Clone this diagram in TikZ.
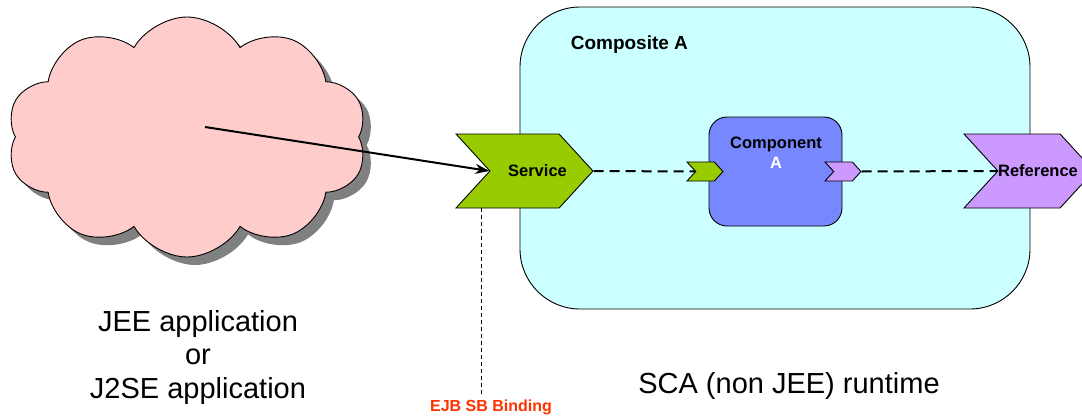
\documentclass[tikz,border=0pt]{standalone}
\usepackage{fontspec}
\setmainfont{Liberation Sans}
\usetikzlibrary{shapes.symbols,shadows,arrows.meta,calc}

\definecolor{cloudpink}{HTML}{FFCCCC}
\definecolor{compcyan}{HTML}{CCFFFF}
\definecolor{compblue}{HTML}{7788FF}
\definecolor{svcgreen}{HTML}{99CC00}
\definecolor{refpurple}{HTML}{CC99FF}
\definecolor{bindred}{HTML}{FF3300}

\begin{document}
\begin{tikzpicture}[x=1pt, y=-1pt, line width=0.9pt,
    chevron/.style={signal, signal from=west, signal to=east, draw,
        inner sep=0pt, signal pointer angle=95},
    bigtext/.style={font=\fontsize{29}{33.5}\selectfont, align=center},
    boldtext/.style={font=\fontsize{16.5}{18}\selectfont\bfseries},
    wire/.style={line width=2pt, dash pattern=on 10pt off 6pt}]
    \useasboundingbox (0,0) rectangle (1082,418);

    % client side
    \node (cloud) [cloud, cloud puffs=10, cloud puff arc=120, aspect=1.5,
        minimum width=360pt, minimum height=240pt, draw, fill=cloudpink,
        drop shadow={shadow xshift=8pt, shadow yshift=-8pt, fill=black!50, opacity=1}]
        at (187,137) {};
    \node (client) [bigtext] at (198,357) {JEE application\\or\\J2SE application};

    % composite with its component
    \node (composite) [draw, fill=compcyan, rounded corners=60pt,
        minimum width=510pt, minimum height=302pt] at (775,158) {};
    \node (comptitle) [font=\fontsize{19}{22}\selectfont\bfseries, anchor=west]
        at (567,45) {Composite A};
    \node (component) [draw, fill=compblue, rounded corners=18pt,
        minimum width=133pt, minimum height=109pt] at (775.5,171.5) {};
    \node (comptext) [font=\fontsize{16.5}{20}\selectfont\bfseries, align=center]
        at (776,153) {Component\\\textcolor{white}{A}};
    \node (runtime) [bigtext] at (789,386) {SCA (non JEE) runtime};

    % promoted service and reference
    \node (svc) [chevron, fill=svcgreen, minimum width=137pt, minimum height=74pt,
        label={[boldtext, xshift=13pt]center:Service}] at (524.5,171) {};
    \node (ref) [chevron, fill=refpurple, minimum width=130pt, minimum height=74pt,
        label={[boldtext, xshift=9pt]center:Reference}] at (1029,171) {};

    % component ports
    \node (csvc) [chevron, fill=svcgreen, minimum width=36pt, minimum height=19pt]
        at (705,171.5) {};
    \node (cref) [chevron, fill=refpurple, minimum width=36pt, minimum height=19pt]
        at (843,171.5) {};

    % wires
    \draw [wire] (svc.east) -- (csvc.west);
    \draw [wire] (cref.east) -- (ref.west);
    \draw [line width=2pt, -{Stealth[length=14pt, width=10pt]}]
        ($(cloud.center)+(18,-10)$) -- (svc.west);

    % binding annotation
    \node (binding) [font=\fontsize{16}{18}\selectfont\bfseries, text=bindred]
        at (491,407) {EJB SB Binding};
    \coordinate (bindtop) at ($(svc.south west)+(26,0)$);
    \draw [line width=0.8pt, dash pattern=on 4pt off 3pt]
        (bindtop) -- (bindtop |- binding.north);
\end{tikzpicture}
\end{document}
